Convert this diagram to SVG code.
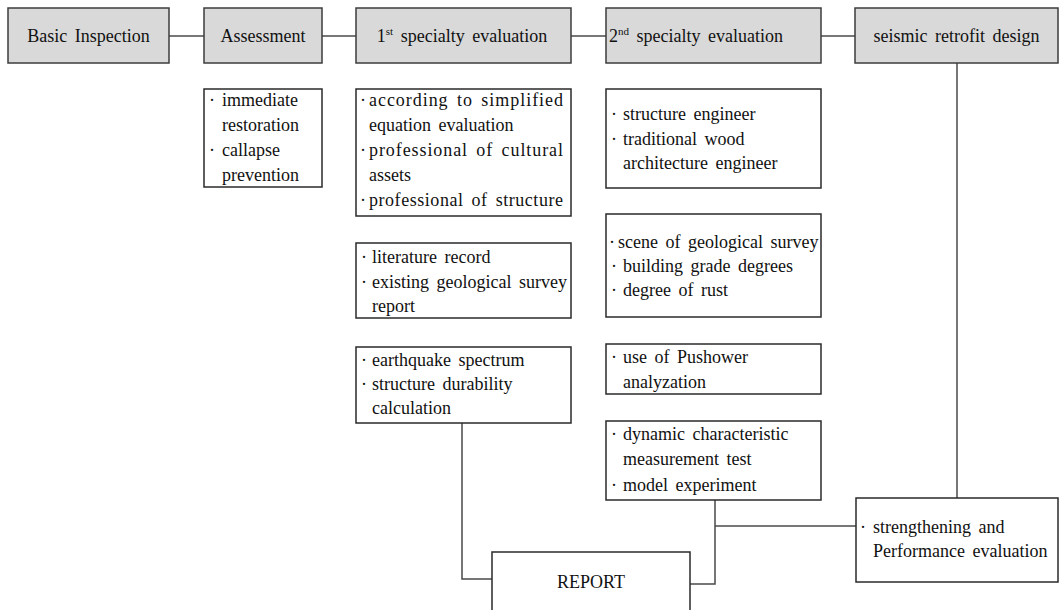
<svg xmlns="http://www.w3.org/2000/svg" width="1060" height="610" viewBox="0 0 1060 610">
<style>
  .hdr { fill: #d9d9d9; stroke: #3c3c3c; stroke-width: 1.5; }
  .box { fill: #ffffff; stroke: #2a2a2a; stroke-width: 1.5; }
  .conn { fill: none; stroke: #4a4a4a; stroke-width: 1.5; }
  text { font-family: "Liberation Serif", "Times New Roman", serif; font-size: 18px; fill: #111; word-spacing: 3px; }
  .c { text-anchor: middle; }
  .sup { font-size: 11px; }
</style>
<rect width="1060" height="610" fill="#ffffff"/>

<g id="connectors">
  <line class="conn" x1="169" y1="36" x2="204" y2="36"/>
  <line class="conn" x1="322" y1="36" x2="356" y2="36"/>
  <line class="conn" x1="571" y1="36" x2="606" y2="36"/>
  <line class="conn" x1="821" y1="36" x2="855" y2="36"/>
  <line class="conn" x1="957" y1="63" x2="957" y2="498"/>
  <polyline class="conn" points="462,423 462,579 492,579"/>
  <polyline class="conn" points="690,584 715,584 715,500"/>
  <line class="conn" x1="715" y1="526" x2="856" y2="526"/>
</g>

<g id="basic-inspection">
  <rect class="hdr" x="8" y="8" width="161" height="55"/>
  <text class="c" x="88.5" y="42">Basic Inspection</text>
</g>
<g id="assessment">
  <rect class="hdr" x="204" y="8" width="118" height="55"/>
  <text class="c" x="263" y="42">Assessment</text>
</g>
<g id="first-specialty">
  <rect class="hdr" x="356" y="8" width="215" height="55"/>
  <text class="c" x="462" y="42">1<tspan class="sup" dy="-7">st</tspan><tspan dy="7"> specialty evaluation</tspan></text>
</g>
<g id="second-specialty">
  <rect class="hdr" x="606" y="8" width="215" height="55"/>
  <text x="609" y="42">2<tspan class="sup" dy="-7">nd</tspan><tspan dy="7"> specialty evaluation</tspan></text>
</g>
<g id="seismic-retrofit">
  <rect class="hdr" x="855" y="8" width="203" height="55"/>
  <text class="c" x="956.5" y="42">seismic retrofit design</text>
</g>

<g id="assessment-detail">
  <rect class="box" x="204" y="89" width="118" height="98"/>
  <text y="106"><tspan x="209">·</tspan><tspan x="222">immediate</tspan></text>
  <text x="222" y="131">restoration</text>
  <text y="156"><tspan x="209">·</tspan><tspan x="222">callapse</tspan></text>
  <text x="222" y="181">prevention</text>
</g>

<g id="first-detail-1">
  <rect class="box" x="356" y="89" width="215" height="127"/>
  <text y="106"><tspan x="360">·</tspan><tspan x="369" textLength="194" lengthAdjust="spacing">according to simplified</tspan></text>
  <text x="369" y="131">equation evaluation</text>
  <text y="156"><tspan x="360">·</tspan><tspan x="369" textLength="194" lengthAdjust="spacing">professional of cultural</tspan></text>
  <text x="369" y="181">assets</text>
  <text y="206"><tspan x="360">·</tspan><tspan x="369" textLength="194" lengthAdjust="spacing">professional of structure</tspan></text>
</g>

<g id="first-detail-2">
  <rect class="box" x="356" y="243" width="215" height="75"/>
  <text y="263"><tspan x="361">·</tspan><tspan x="372">literature record</tspan></text>
  <text y="288"><tspan x="361">·</tspan><tspan x="372">existing geological survey</tspan></text>
  <text x="372" y="312">report</text>
</g>

<g id="first-detail-3">
  <rect class="box" x="356" y="347" width="215" height="76"/>
  <text y="366"><tspan x="361">·</tspan><tspan x="372">earthquake spectrum</tspan></text>
  <text y="390"><tspan x="361">·</tspan><tspan x="372">structure durability</tspan></text>
  <text x="372" y="414">calculation</text>
</g>

<g id="second-detail-1">
  <rect class="box" x="606" y="89" width="215" height="99"/>
  <text y="120"><tspan x="611">·</tspan><tspan x="623">structure engineer</tspan></text>
  <text y="145"><tspan x="611">·</tspan><tspan x="623">traditional wood</tspan></text>
  <text x="623" y="169">architecture engineer</text>
</g>

<g id="second-detail-2">
  <rect class="box" x="606" y="214" width="215" height="103"/>
  <text y="248"><tspan x="609">·</tspan><tspan x="618">scene of geological survey</tspan></text>
  <text y="272"><tspan x="611">·</tspan><tspan x="623">building grade degrees</tspan></text>
  <text y="296"><tspan x="611">·</tspan><tspan x="623">degree of rust</tspan></text>
</g>

<g id="second-detail-3">
  <rect class="box" x="606" y="344" width="215" height="50"/>
  <text y="363"><tspan x="611">·</tspan><tspan x="623">use of Pushower</tspan></text>
  <text x="623" y="388">analyzation</text>
</g>

<g id="second-detail-4">
  <rect class="box" x="606" y="421" width="215" height="79"/>
  <text y="440"><tspan x="611">·</tspan><tspan x="623">dynamic characteristic</tspan></text>
  <text x="623" y="465">measurement test</text>
  <text y="491"><tspan x="611">·</tspan><tspan x="623">model experiment</tspan></text>
</g>

<g id="strengthening">
  <rect class="box" x="856" y="498" width="202" height="84"/>
  <text y="533"><tspan x="860">·</tspan><tspan x="873">strengthening and</tspan></text>
  <text x="873" y="557">Performance evaluation</text>
</g>

<g id="report">
  <rect class="box" x="492" y="552" width="198" height="64"/>
  <text class="c" x="591" y="588">REPORT</text>
</g>
</svg>
